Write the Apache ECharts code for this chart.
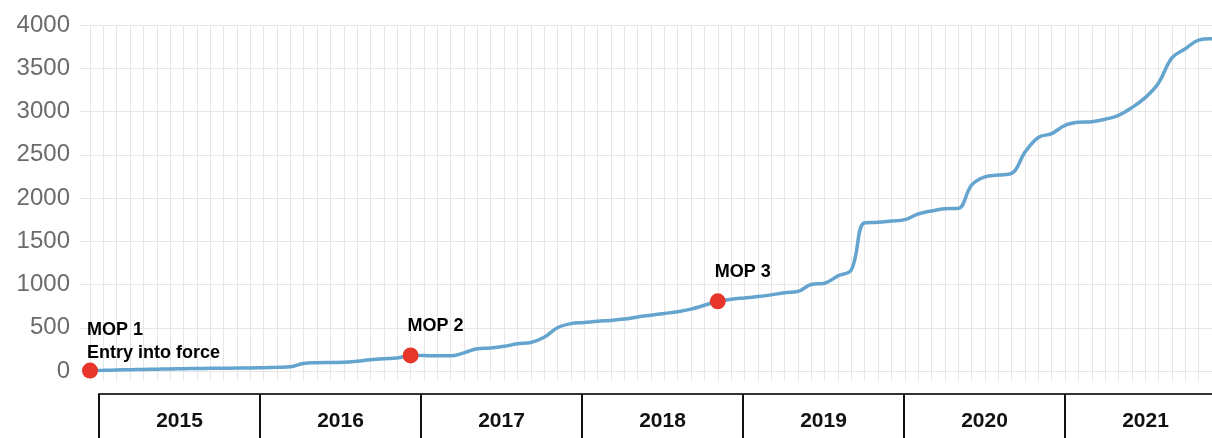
<!DOCTYPE html>
<html>
<head>
<meta charset="utf-8">
<title>Parties over time</title>
<script src="https://cdn.jsdelivr.net/npm/echarts@6/dist/echarts.min.js"></script>
<style>
  html, body { margin: 0; padding: 0; background: #fff; }
  #chart { width: 1212px; height: 438px; }
</style>
</head>
<body>
<div id="chart"></div>
<script>
// monthly points, Dec 2014 .. Dec 2021
const months = []
for (let y = 2014; y <= 2021; y++) {
  for (let m = 1; m <= 12; m++) {
    if (y === 2014 && m < 12) continue
    months.push(y + '-' + String(m).padStart(2, '0'))
  }
}

// cumulative count, one per month
const totals = [
  5, 8, 12, 15, 18, 21, 24, 27, 29, 31, 32, 34, 35,
  38, 42, 48, 88, 95, 98, 100, 112, 130, 142, 150, 180,
  178, 175, 175, 210, 258, 266, 285, 315, 330, 390, 500,
  548, 560, 575, 585, 600, 625, 645, 665, 685, 715, 760, 805,
  830, 845, 860, 880, 905, 920, 1000, 1015, 1100, 1170, 1714,
  1720, 1735, 1750, 1815, 1850, 1875, 1880, 2150, 2245, 2265, 2285,
  2530, 2700, 2745, 2840, 2875, 2882, 2910, 2955, 3045, 3160, 3330,
  3620, 3725, 3825, 3840
]

// meetings of the parties
const mopIndex = [0, 24, 47]
const mopNames = ['MOP 1\nEntry into force', 'MOP 2', 'MOP 3']

// year boxes under the chart
const years = ['2015', '2016', '2017', '2018', '2019', '2020', '2021']

const chart = echarts.init(document.getElementById('chart'))

const gridColor = '#e6e6e6'
const font = 'Liberation Sans, Arial, sans-serif'

const option = {
  animation: false,
  grid: [
    { left: 90, right: 0, top: 25, bottom: 67, outerBoundsMode: 'none' }, // main plot
    { left: 99, top: 394, width: 161 * years.length, height: 80, outerBoundsMode: 'none' } // year row, last box runs off the edge
  ],
  xAxis: [
    {
      type: 'category',
      data: months,
      boundaryGap: false,
      axisLine: { show: false },
      axisTick: { show: true, interval: 0, length: 10, lineStyle: { color: gridColor } },
      axisLabel: { show: false },
      splitLine: { show: true, interval: 0, lineStyle: { color: gridColor, width: 1 } }
    },
    {
      type: 'category',
      gridIndex: 1,
      data: years,
      position: 'top',
      boundaryGap: true,
      axisLine: { show: true, onZero: false, lineStyle: { color: '#333', width: 2 } },
      axisTick: { show: true, inside: true, length: 80, lineStyle: { color: '#111', width: 2 } },
      axisLabel: {
        inside: true,
        margin: 17,
        color: '#111',
        fontSize: 21,
        fontWeight: 'bold',
        fontFamily: font
      },
      splitLine: { show: false }
    }
  ],
  yAxis: [
    {
      type: 'value',
      min: 0,
      max: 4000,
      interval: 500,
      axisLine: { show: false },
      axisTick: { show: true, length: 10, lineStyle: { color: gridColor } },
      axisLabel: {
        margin: 20,
        color: '#6b6b6b',
        fontSize: 24,
        fontFamily: font,
        formatter: v => String(v)
      },
      splitLine: { show: true, lineStyle: { color: gridColor, width: 1 } }
    },
    { type: 'value', gridIndex: 1, show: false, min: 0, max: 1 }
  ],
  series: [
    {
      name: 'Parties',
      type: 'line',
      data: totals,
      smooth: 0.4,
      showSymbol: false,
      lineStyle: { color: '#64a4cf', width: 3.5 },
      z: 2
    },
    {
      name: 'MOP',
      type: 'scatter',
      symbolSize: 16,
      itemStyle: { color: '#e8352a', opacity: 1 },
      z: 3,
      data: mopIndex.map((idx, i) => ({
        value: [idx, totals[idx]],
        name: mopNames[i],
        label: i === 0 ? { position: [5, 2] } : {}
      })),
      label: {
        show: true,
        formatter: p => p.name,
        position: [5, -10],
        align: 'left',
        verticalAlign: 'bottom',
        color: '#000',
        fontSize: 18,
        lineHeight: 23,
        fontWeight: 'bold',
        fontFamily: font
      }
    }
  ]
}

chart.setOption(option)
</script>
</body>
</html>
